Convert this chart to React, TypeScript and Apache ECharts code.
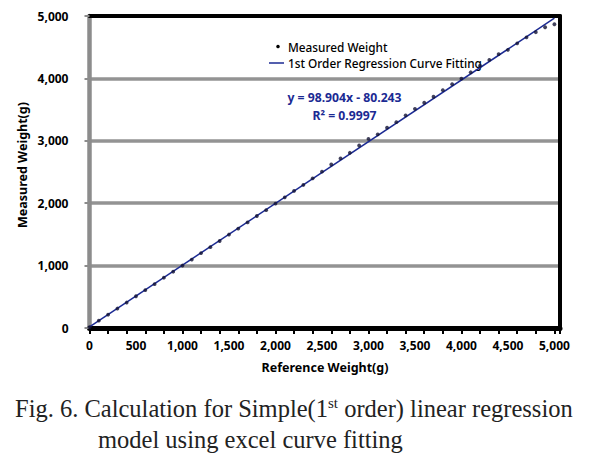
import React, { useEffect, useRef } from "react";
import * as echarts from "echarts";

const REF_WEIGHT = [
  0, 100, 200, 300, 400, 500, 600, 700, 800, 900,
  1000, 1100, 1200, 1300, 1400, 1500, 1600, 1700, 1800, 1900,
  2000, 2100, 2200, 2300, 2400, 2500, 2600, 2700, 2800, 2900,
  3000, 3100, 3200, 3300, 3400, 3500, 3600, 3700, 3800, 3900,
  4000, 4100, 4200, 4300, 4400, 4500, 4600, 4700, 4800, 4900, 5000,
];
const MEASURED_WEIGHT = [
  12, 118, 213, 312, 408, 509, 606, 703, 806, 902,
  1001, 1097, 1201, 1296, 1394, 1498, 1593, 1692, 1795, 1889,
  1992, 2094, 2196, 2292, 2399, 2505, 2620, 2718, 2808, 2925,
  3030, 3104, 3210, 3298, 3408, 3512, 3610, 3706, 3812, 3908,
  3996, 4098, 4203, 4296, 4390, 4458, 4562, 4658, 4740, 4820, 4868,
];
const TREND_X = [0, 5000];
const TREND_Y = [18.7, 4964];
const X_TICKS_LABEL_STEP = 500;
const Y_TICKS = [0, 1000, 2000, 3000, 4000, 5000];

const NAVY = "#1b2a93";
const FONT = "'Noto Sans', 'Open Sans', sans-serif";
const SERIF = "'Liberation Serif', serif";

function fmt(v: number) {
  return v.toLocaleString("en-US");
}

export default function App() {
  const ref = useRef<HTMLDivElement>(null);
  useEffect(() => {
    document.body.style.margin = "0";
    const chart = echarts.init(ref.current!, null, { renderer: "svg" });
    const xMax = 5060;
    const option: any = {
      animation: false,
      backgroundColor: "#ffffff",
      grid: { left: 89.5, right: 30, top: 16, bottom: 129, containLabel: false },
      xAxis: [
        {
          type: "value",
          min: 0,
          max: xMax,
          interval: X_TICKS_LABEL_STEP,
          position: "bottom",
          axisLine: { show: true, onZero: false, lineStyle: { color: "#000", width: 5 } },
          axisTick: { show: false },
          splitLine: { show: false },
          axisLabel: {
            margin: 11,
            color: "#000",
            fontFamily: FONT,
            fontWeight: "bold",
            fontSize: 12,
            showMaxLabel: false,
            formatter: (v: number) => (v % X_TICKS_LABEL_STEP === 0 && v <= 5000 ? fmt(v) : ""),
          },
        },
        {
          type: "value",
          min: 0,
          max: xMax,
          interval: 200,
          position: "bottom",
          axisLine: { show: false, onZero: false },
          axisTick: { show: true, length: 6, lineStyle: { color: "#000", width: 2 } },
          axisLabel: { show: false },
          splitLine: { show: false },
        },
        {
          type: "value",
          min: 0,
          max: xMax,
          position: "top",
          axisLine: { show: true, onZero: false, lineStyle: { color: "#000", width: 4 } },
          axisTick: { show: false },
          axisLabel: { show: false },
          splitLine: { show: false },
        },
      ],
      yAxis: [
        {
          type: "value",
          min: 0,
          max: 5000,
          interval: 1000,
          position: "left",
          axisLine: { show: true, onZero: false, lineStyle: { color: "#8c8c8c", width: 4.5 } },
          axisTick: { show: true, length: 5, lineStyle: { color: "#8c8c8c", width: 2 } },
          splitLine: { show: true, lineStyle: { color: "#939393", width: 3.5 } },
          axisLabel: {
            margin: 21,
            color: "#000",
            fontFamily: FONT,
            fontWeight: "bold",
            fontSize: 12,
            formatter: (v: number) => (Y_TICKS.includes(v) ? fmt(v) : ""),
          },
        },
        {
          type: "value",
          min: 0,
          max: 5000,
          position: "right",
          axisLine: { show: true, onZero: false, lineStyle: { color: "#000", width: 4 } },
          axisTick: { show: false },
          axisLabel: { show: false },
          splitLine: { show: false },
        },
      ],
      series: [
        {
          name: "1st Order Regression Curve Fitting",
          type: "line",
          xAxisIndex: 0,
          yAxisIndex: 0,
          data: TREND_X.map((x, i) => [x, TREND_Y[i]]),
          showSymbol: false,
          lineStyle: { color: NAVY, width: 1.5 },
          z: 3,
        },
        {
          name: "Measured Weight",
          type: "scatter",
          xAxisIndex: 0,
          yAxisIndex: 0,
          data: REF_WEIGHT.map((x, i) => [x, MEASURED_WEIGHT[i]]),
          symbol: "circle",
          symbolSize: 3.8,
          itemStyle: { color: "#111133" },
          z: 4,
        },
      ],
      graphic: [
        { type: "circle", shape: { cx: 278, cy: 46.5, r: 1.8 }, style: { fill: "#000" } },
        {
          type: "text",
          x: 288,
          y: 46.5,
          style: { text: "Measured Weight", fill: "#000", font: `500 11.8px ${FONT}`, verticalAlign: "middle" },
        },
        { type: "line", shape: { x1: 269, y1: 63, x2: 284, y2: 63 }, style: { stroke: NAVY, lineWidth: 1.5 } },
        {
          type: "text",
          x: 288,
          y: 63,
          style: { text: "1st Order Regression Curve Fitting", fill: "#000", font: `500 11.8px ${FONT}`, verticalAlign: "middle" },
        },
        {
          type: "text",
          x: 344.5,
          y: 97,
          style: { text: "y = 98.904x - 80.243", fill: NAVY, font: `bold 12.2px ${FONT}`, align: "center", verticalAlign: "middle" },
        },
        {
          type: "text",
          x: 344.5,
          y: 115,
          style: { text: "R² = 0.9997", fill: NAVY, font: `bold 12.2px ${FONT}`, align: "center", verticalAlign: "middle" },
        },
        {
          type: "text",
          x: 22,
          y: 165,
          rotation: Math.PI / 2,
          style: { text: "Measured Weight(g)", fill: "#000", font: `bold 12.5px ${FONT}`, align: "center", verticalAlign: "middle" },
        },
        {
          type: "text",
          x: 325,
          y: 367,
          style: { text: "Reference Weight(g)", fill: "#000", font: `bold 12.5px ${FONT}`, align: "center", verticalAlign: "middle" },
        },
        {
          type: "text",
          x: 15,
          y: 408,
          style: {
            text: "{a|Fig. 6. Calculation for Simple(1}{s|st}{a| order) linear regression}",
            verticalAlign: "middle",
            rich: {
              a: { fontFamily: SERIF, fontSize: 24.5, fill: "#222", lineHeight: 30 },
              s: { fontFamily: SERIF, fontSize: 15, fill: "#222", lineHeight: 30, padding: [0, 0, 11, 0] },
            },
          },
        },
        {
          type: "text",
          x: 98,
          y: 439,
          style: {
            text: "model using excel curve fitting",
            fill: "#222",
            font: `24.5px ${SERIF}`,
            verticalAlign: "middle",
          },
        },
      ],
    };
    chart.setOption(option);
    return () => chart.dispose();
  }, []);
  return <div ref={ref} style={{ position: "fixed", left: 0, top: 0, width: 590, height: 457 }} />;
}
